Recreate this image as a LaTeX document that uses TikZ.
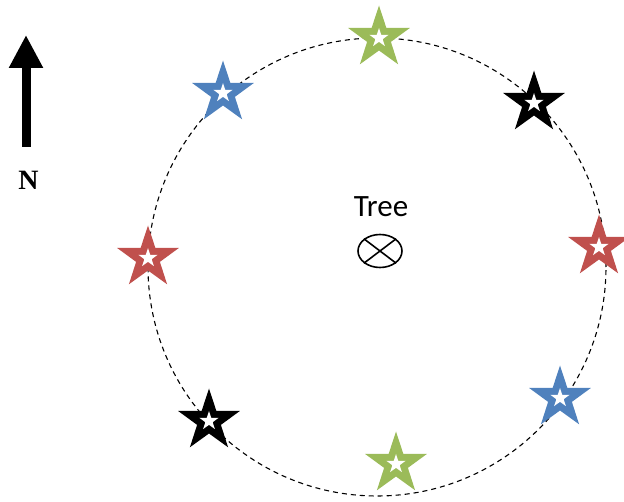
\documentclass[tikz,border=0pt]{standalone}
\usepackage{fontspec}
\newfontfamily\treefont{Carlito}
\newfontfamily\northfont{Liberation Serif}
\usetikzlibrary{positioning, shapes.geometric, arrows.meta}
\definecolor{stargreen}{HTML}{9BBB59}
\definecolor{starblue}{HTML}{4F81BD}
\definecolor{starred}{HTML}{C0504D}

\begin{document}
\begin{tikzpicture}[
        x=1pt, y=-1pt,
        pointstar/.style={star, star points=5, star point ratio=2.6, fill=#1, minimum size=65pt, inner sep=0pt},
        starhole/.style={star, star points=5, star point ratio=2.6, fill=white, minimum size=20pt, inner sep=0pt},
        ring/.style={draw, dash pattern=on 5pt off 4pt, line width=1.1pt}
    ]
        \useasboundingbox (0,0) rectangle (624,502);

        \node[ring, circle, minimum size=458pt, inner sep=0pt] (ring) at (377,267) {};

        \node[pointstar=stargreen] (gtop) at (379,38) {};
        \node[pointstar=starblue] (bul) at (223,93) {};
        \node[pointstar=black] (kur) at (534,103) {};
        \node[pointstar=starred] (rright) at (599,247) {};
        \node[pointstar=starred] (rleft) at (148,258) {};
        \node[pointstar=black] (kll) at (209,421) {};
        \node[pointstar=starblue] (blr) at (560,398) {};
        \node[pointstar=stargreen] (gbot) at (396,464) {};
        \foreach \s in {gtop,bul,kur,rright,rleft,kll,blr,gbot}
            \node[starhole] (\s-hole) at (\s) {};

        \node[draw, ellipse, line width=1.6pt, minimum width=44pt, minimum height=33pt, inner sep=0pt] (tree) at (380,251) {};
        \draw[line width=1.6pt] (tree.north east) -- (tree.south west);
        \draw[line width=1.6pt] (tree.north west) -- (tree.south east);
        \node[inner sep=0pt, above=17pt of tree, xshift=1pt] (treelabel) {\treefont\fontsize{31}{31}\selectfont Tree};

        \coordinate (ntail) at (26,147);
        \coordinate (ntip) at (26,35);
        \draw[line width=9pt, -{Triangle[width=32pt, length=33pt]}] (ntail) -- (ntip);
        \node[anchor=base, inner sep=0pt] (north) at (28.5,190) {\northfont\bfseries\fontsize{28}{28}\selectfont N};
    \end{tikzpicture}
\end{document}
